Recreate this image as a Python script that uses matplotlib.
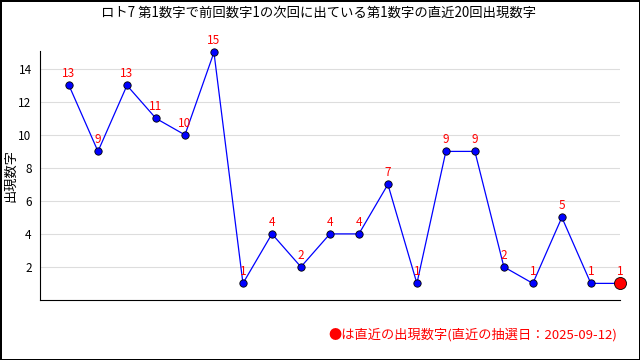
import matplotlib
matplotlib.use("Agg")
import matplotlib.pyplot as plt

plt.rcParams['font.family'] = ['Noto Sans CJK JP', 'DejaVu Sans']

# data
values = [13, 9, 13, 11, 10, 15, 1, 4, 2, 4, 4, 7, 1, 9, 9, 2, 1, 5, 1, 1]
yticks = [2, 4, 6, 8, 10, 12, 14]
title = "ロト7 第1数字で前回数字1の次回に出ている第1数字の直近20回出現数字"
ylabel = "出現数字"
note = "●は直近の出現数字(直近の抽選日：2025-09-12)"

fig = plt.figure(figsize=(6.4, 3.6), dpi=100)
fig.patch.set_edgecolor('black')
fig.patch.set_linewidth(2)
ax = fig.add_axes([0.0625, 0.167, 0.906, 0.692])

x = list(range(len(values)))
ax.plot(x, values, color='blue', lw=0.9, zorder=3, clip_on=False)
ax.scatter(x[:-1], values[:-1], s=28, color='blue', edgecolors='black',
           linewidths=0.6, zorder=4, clip_on=False)
ax.scatter(x[-1:], values[-1:], s=75, color='red', edgecolors='black',
           linewidths=0.6, zorder=5, clip_on=False)
for xi, v in zip(x, values):
    ax.text(xi, v + 0.3, str(v), color='red', ha='center', va='bottom', fontsize=8.5)

ax.set_xlim(-1, 19)
ax.set_ylim(0, 15.1)
ax.set_yticks(yticks)
ax.set_xticks([])
ax.tick_params(axis='y', length=0, labelsize=8.5, pad=6)
ax.grid(axis='y', color='#dddddd', lw=0.8)
ax.set_axisbelow(True)
for s in ['top', 'right']:
    ax.spines[s].set_visible(False)
ax.set_ylabel(ylabel, fontsize=9.5)
ax.yaxis.set_label_coords(-0.039, 0.5)
fig.text(0.497, 0.965, title, ha='center', va='center', fontsize=9.6)
fig.text(0.965, 0.07, note, ha='right', va='center', color='red', fontsize=9.5)

fig.savefig("out.png", dpi=100)
